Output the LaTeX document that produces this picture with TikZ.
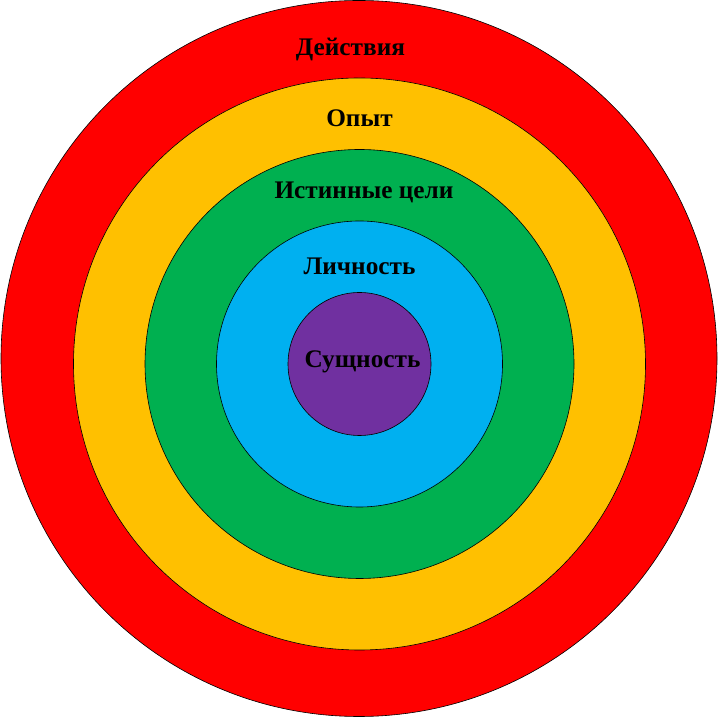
\documentclass[tikz,border=0pt]{standalone}
\usepackage{fontspec}
\setmainfont{Liberation Serif}
\definecolor{cRed}{HTML}{FF0000}
\definecolor{cOrange}{HTML}{FFC000}
\definecolor{cGreen}{HTML}{00B050}
\definecolor{cBlue}{HTML}{00B0F0}
\definecolor{cPurple}{HTML}{7030A0}
\begin{document}
\begin{tikzpicture}[x=1pt,y=1pt,
  ring/.style={circle,draw=black,line width=0.6pt,inner sep=0pt},
  lbl/.style={font=\bfseries\fontsize{25.3}{29}\selectfont,text=black,anchor=base,inner sep=0pt}]
\useasboundingbox (0,0) rectangle (719,719);
\node[ring,fill=cRed,minimum size=716pt] (r1) at (359,360.5) {};
\node[ring,fill=cOrange,minimum size=572pt] (r2) at (359.5,355) {};
\node[ring,fill=cGreen,minimum size=429pt] (r3) at (359.5,355) {};
\node[ring,fill=cBlue,minimum size=286pt] (r4) at (359.5,355) {};
\node[ring,fill=cPurple,minimum size=143pt] (r5) at (359.5,355) {};
\node[lbl] (t1) at (350.5,663) {Действия};
\node[lbl] (t2) at (359.5,592) {Опыт};
\node[lbl] (t3) at (364,520) {Истинные цели};
\node[lbl] (t4) at (359.5,444) {Личность};
\node[lbl] (t5) at (362.5,351) {Сущность};
\end{tikzpicture}
\end{document}
